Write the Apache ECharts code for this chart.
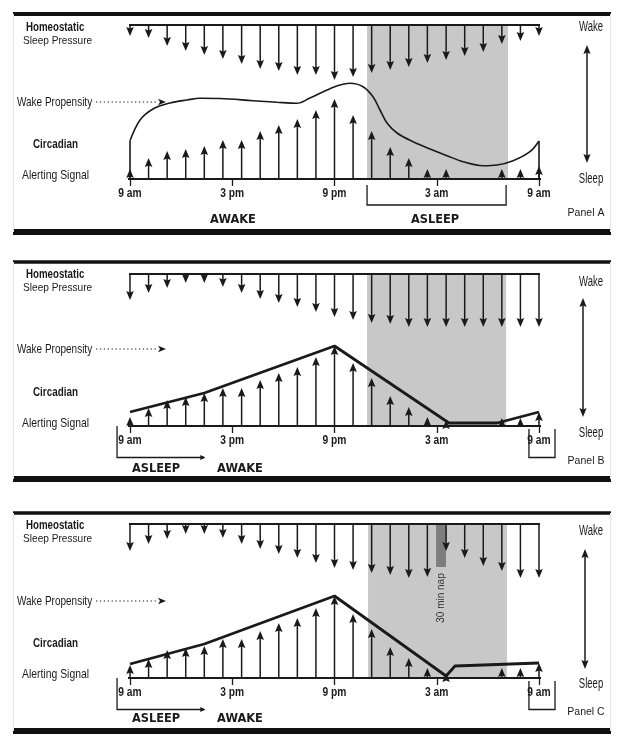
<!DOCTYPE html>
<html><head><meta charset="utf-8">
<script src="https://cdn.jsdelivr.net/npm/echarts@6/dist/echarts.min.js"></script>
<style>html,body{margin:0;padding:0;background:#fff}#c{width:624px;height:746px}</style>
</head><body><div id="c"></div>
<script>
// ---------- data ----------
const hourLabels = ['9 am', '3 pm', '9 pm', '3 am', '9 am'];
const hourTicks = [0, 6, 12, 18, 24];
// hours after 9 am at which the arrows stand
const arrowHours = [0, 1.09, 2.18, 3.27, 4.36, 5.45, 6.55, 7.64, 8.73, 9.82, 10.91, 12,
  13.09, 14.18, 15.27, 16.36, 17.45, 18.55, 19.64, 20.73, 21.82, 22.91, 24];
// homeostatic sleep pressure (downward arrow lengths)
const homeoA = [11, 13, 21, 26, 30, 34, 39, 44, 46, 50, 50, 55, 52, 48, 45, 42, 38, 35, 31, 27, 19, 16, 11];
const homeoB = [26, 19, 14, 9, 9, 13, 19, 25, 29, 33, 38, 43, 46, 49, 50, 53, 53, 53, 53, 53, 53, 53, 53];
const homeoC = [27, 20, 15, 10, 10, 14, 20, 25, 30, 34, 39, 44, 46, 49, 51, 54, 53, 27, 34, 42, 47, 54, 54];
// circadian alerting signal (upward arrow lengths)
const circA = [10, 21, 28, 30, 33, 39, 39, 48, 54, 60, 69, 80, 64, 48, 32, 21, 10, 10, 0, 0, 10, 10, 13];
const circB = [9, 18, 26, 29, 33, 38, 38, 46, 53, 59, 69, 80, 63, 48, 30, 19, 9, 6, 0, 0, 8, 8, 14];
const circC = [13, 19, 28, 30, 32, 39, 39, 47, 55, 60, 70, 82, 64, 49, 31, 20, 10, 5, 0, 0, 10, 10, 15];
// wake propensity
const wakeA = [[0, 38.3], [0.59, 59], [1.35, 70], [2.35, 76], [3.35, 79], [4.11, 80.7], [5.28, 80.5],
  [7.22, 78.3], [8.63, 76.7], [9.8, 75.7], [10.56, 81], [11.56, 89], [12.32, 94], [12.91, 95.7],
  [13.67, 92.3], [14.26, 82.3], [14.67, 69], [15.08, 56], [15.67, 46], [16.61, 37.3], [17.61, 30],
  [18.6, 23.3], [19.54, 17.3], [20.72, 13.3], [21.54, 14], [22.48, 18.3], [23.47, 27.3], [24, 38]];
const wakeB = [[0, 14], [4.36, 33], [12, 80], [18.72, 3], [21.54, 3], [24, 14]];
const wakeC = [[0, 14], [4.36, 34], [12, 82], [18.55, 2], [19.07, 12], [24, 15]];
// sleep periods (hours after 9 am)
const sleepA = [13.91, 22.18];
const sleepB = [13.91, 22.07];
const sleepC = [13.97, 22.12];
const napC = [17.96, 18.54];

// ---------- layout ----------
const SANS = "'Liberation Sans',Arial,sans-serif";
const NX = 0.76; // horizontal squeeze to imitate a condensed face
const INK = '#1a1a1a';
const panels = [
  {top: 25, h: 154, homeo: homeoA, circ: circA, wake: wakeA, sleep: sleepA, smooth: true, topLine: [-0.76, 24.94]},
  {top: 274, h: 152, homeo: homeoB, circ: circB, wake: wakeB, sleep: sleepB, smooth: false, topLine: [-0.53, 24.7]},
  {top: 524, h: 154, homeo: homeoC, circ: circC, wake: wakeC, sleep: sleepC, smooth: false, topLine: [-0.53, 24.82]}
];

const grids = [], xAxes = [], yAxes = [], series = [];
panels.forEach((p, gi) => {
  grids.push({left: 130, width: 409, top: p.top, height: p.h});
  xAxes.push({gridIndex: gi, type: 'value', min: 0, max: 24, interval: 6,
    axisLine: {show: false}, splitLine: {show: false},
    axisTick: {show: true, length: 7, lineStyle: {color: INK, width: 1.3}},
    axisLabel: {show: false}});
  yAxes.push({gridIndex: gi, type: 'value', min: 0, max: p.h, show: false});

  // shading for sleep
  series.push({type: 'custom', xAxisIndex: gi, yAxisIndex: gi, clip: false, silent: true, z: 1,
    data: [[p.sleep[0], p.sleep[1], p.h]],
    renderItem(params, api) {
      const a = api.coord([api.value(0), api.value(2)]), b = api.coord([api.value(1), 0]);
      return {type: 'rect', shape: {x: a[0], y: a[1], width: b[0] - a[0], height: b[1] - a[1]},
        style: {fill: '#c8c8c8'}};
    }});
  if (gi === 2) {
    series.push({type: 'custom', xAxisIndex: gi, yAxisIndex: gi, clip: false, silent: true, z: 2,
      data: [[napC[0], napC[1], p.h]],
      renderItem(params, api) {
        const a = api.coord([api.value(0), api.value(2)]), b = api.coord([api.value(1), api.value(2) - 43]);
        return {type: 'rect', shape: {x: a[0], y: a[1], width: b[0] - a[0], height: b[1] - a[1]},
          style: {fill: '#7d7d7d'}};
      }});
  }
  // baselines
  series.push({type: 'line', xAxisIndex: gi, yAxisIndex: gi, clip: false, silent: true, symbol: 'none', z: 4,
    data: [[p.topLine[0], p.h], [p.topLine[1], p.h]], lineStyle: {color: INK, width: 2}});
  series.push({type: 'line', xAxisIndex: gi, yAxisIndex: gi, clip: false, silent: true, symbol: 'none', z: 4,
    data: [[-0.76, 0], [24.94, 0]], lineStyle: {color: INK, width: 2.2}});

  // hour labels
  series.push({type: 'custom', xAxisIndex: gi, yAxisIndex: gi, clip: false, silent: true, z: 7,
    data: hourTicks.map((h, i) => [h, i]),
    renderItem(params, api) {
      const c = api.coord([api.value(0), 0]);
      return {type: 'text', x: c[0], y: c[1] + 14.5, scaleX: NX,
        style: {text: hourLabels[api.value(1)], fontFamily: SANS, fontWeight: 'bold', fontSize: 13.5,
          fill: INK, textAlign: 'center', textVerticalAlign: 'middle'}};
    }});

  // arrows
  const mkArrows = (vals, down) => ({type: 'custom', xAxisIndex: gi, yAxisIndex: gi, clip: false, silent: true, z: 5,
    data: arrowHours.map((hr, i) => [hr, vals[i]]),
    renderItem(params, api) {
      const hr = api.value(0), len = api.value(1);
      if (!len) return null;
      const base = down ? p.h : 0, tipV = down ? p.h - len : len;
      const p0 = api.coord([hr, base]), p1 = api.coord([hr, tipV]);
      const d = down ? 1 : -1, hl = 9, hw = 3.8;
      return {type: 'group', children: [
        {type: 'line', shape: {x1: p0[0], y1: p0[1], x2: p1[0], y2: p1[1] - d * 4},
          style: {stroke: INK, lineWidth: 1.5}},
        {type: 'polygon', shape: {points: [[p1[0], p1[1]], [p1[0] - hw, p1[1] - d * hl],
          [p1[0], p1[1] - d * (hl - 1.5)], [p1[0] + hw, p1[1] - d * hl]]}, style: {fill: INK}}
      ]};
    }});
  series.push(mkArrows(p.homeo, true));
  series.push(mkArrows(p.circ, false));

  // wake propensity
  series.push({type: 'line', xAxisIndex: gi, yAxisIndex: gi, clip: false, silent: true, symbol: 'none', z: 6,
    data: p.wake, smooth: p.smooth ? 0.35 : false,
    lineStyle: {color: INK, width: p.smooth ? 1.6 : 2.8}});
  if (p.smooth) {
    series.push({type: 'line', xAxisIndex: gi, yAxisIndex: gi, clip: false, silent: true, symbol: 'none', z: 6,
      data: [[p.wake[0][0], 0], p.wake[0], '-', p.wake[p.wake.length - 1], [p.wake[p.wake.length - 1][0], 0]],
      connectNulls: false, lineStyle: {color: INK, width: 1.6}});
  }

  // brackets
  const brackets = gi === 0
    ? [{pts: [[13.91, -6], [13.91, -26], [22.07, -26], [22.07, -6]], arrow: false}]
    : [{pts: [[-0.76, 0], [-0.76, -31.5], [4.36, -31.5]], arrow: true},
       {pts: [[23.41, -3], [23.41, -31.5], [24.94, -31.5], [24.94, -3]], arrow: false}];
  series.push({type: 'custom', xAxisIndex: gi, yAxisIndex: gi, clip: false, silent: true, z: 6,
    data: brackets.map((b, i) => [i]),
    renderItem(params, api) {
      const b = brackets[api.value(0)];
      const pts = b.pts.map(q => api.coord(q));
      const ch = [{type: 'polyline', shape: {points: pts}, style: {stroke: INK, lineWidth: 1.3, fill: null}}];
      if (b.arrow) {
        const e = pts[pts.length - 1];
        ch.push({type: 'polygon', shape: {points: [[e[0] + 1, e[1]], [e[0] - 4, e[1] - 2.5], [e[0] - 4, e[1] + 2.5]]},
          style: {fill: INK}});
      }
      return {type: 'group', children: ch};
    }});
});

// ---------- annotations ----------
const g = [];
const txt = (x, y, s, size, weight, align, sx, font, color) => g.push({type: 'text', x, y, silent: true, z: 10,
  scaleX: sx || 1,
  style: {text: s, fontFamily: font || SANS, fontSize: size, fontWeight: weight || 'normal', fill: color || INK,
    textAlign: align || 'left', textVerticalAlign: 'middle'}});
const hline = (y, w) => g.push({type: 'rect', silent: true, shape: {x: 13, y: y - w / 2, width: 598, height: w},
  style: {fill: '#111'}});
const dbl = (x, y1, y2) => {
  g.push({type: 'line', silent: true, shape: {x1: x, y1: y1 + 4, x2: x, y2: y2 - 4}, style: {stroke: INK, lineWidth: 1.5}});
  g.push({type: 'polygon', silent: true, shape: {points: [[x, y1], [x - 3.6, y1 + 9], [x, y1 + 7.5], [x + 3.6, y1 + 9]]}, style: {fill: INK}});
  g.push({type: 'polygon', silent: true, shape: {points: [[x, y2], [x - 3.6, y2 - 9], [x, y2 - 7.5], [x + 3.6, y2 - 9]]}, style: {fill: INK}});
};
const dotted = (y) => {
  g.push({type: 'line', silent: true, shape: {x1: 96, y1: y, x2: 158, y2: y},
    style: {stroke: INK, lineWidth: 1.2, lineDash: [1.3, 2.6]}});
  g.push({type: 'polygon', silent: true, shape: {points: [[166, y], [158, y - 3.2], [160, y], [158, y + 3.2]]}, style: {fill: INK}});
};
// frames
[[14, 4, 232, 6], [262, 3.5, 479, 6], [513, 3.5, 731, 6]].forEach(([t, tw, b, bw]) => {
  hline(t, tw); hline(b, bw);
  g.push({type: 'line', silent: true, shape: {x1: 13.5, y1: t, x2: 13.5, y2: b}, style: {stroke: '#e6e6e6', lineWidth: 1}});
  g.push({type: 'line', silent: true, shape: {x1: 610.5, y1: t, x2: 610.5, y2: b}, style: {stroke: '#e6e6e6', lineWidth: 1}});
});
const labelY = [
  {home: 27, press: 41, wake: 102, circ: 144, alert: 175, wk: 27, sl: 179, arr: [45, 163], ax: 587, pn: 213},
  {home: 274, press: 288, wake: 349, circ: 392, alert: 423, wk: 282, sl: 433, arr: [298, 417], ax: 583, pn: 461},
  {home: 525, press: 539, wake: 601, circ: 643, alert: 674, wk: 531, sl: 684, arr: [549, 669], ax: 585, pn: 712}
];
labelY.forEach((L, i) => {
  txt(26, L.home, 'Homeostatic', 13.5, 'bold', 'left', 0.72);
  txt(23, L.press, 'Sleep Pressure', 11, 'normal', 'left', 0.92);
  txt(17, L.wake, 'Wake Propensity', 13.5, 'normal', 'left', 0.74);
  dotted(L.wake);
  txt(33, L.circ, 'Circadian', 13.5, 'bold', 'left', 0.73);
  txt(22, L.alert, 'Alerting Signal', 13.5, 'normal', 'left', 0.77);
  txt(591, L.wk, 'Wake', 14, 'normal', 'center', 0.68);
  txt(591, L.sl, 'Sleep', 14, 'normal', 'center', 0.68);
  dbl(L.ax, L.arr[0], L.arr[1]);
  txt(586, L.pn, ['Panel A', 'Panel B', 'Panel C'][i], 10.5, 'normal', 'center', 1);
});
const SLAB = "'DejaVu Sans',sans-serif";
[[233, 220, 'AWAKE'], [435, 220, 'ASLEEP'], [156, 469, 'ASLEEP'], [240, 469, 'AWAKE'],
 [156, 719, 'ASLEEP'], [240, 719, 'AWAKE']].forEach(([x, y, s]) => txt(x, y, s, 12, 'bold', 'center', 0.95, SLAB));
g.push({type: 'text', x: 441, y: 598, rotation: Math.PI / 2, silent: true, z: 10,
  style: {text: '30 min nap', fontFamily: SANS, fontSize: 10, fill: '#333', textAlign: 'center', textVerticalAlign: 'middle'}});

const chart = echarts.init(document.getElementById('c'), null, {renderer: 'canvas'});
chart.setOption({animation: false, backgroundColor: '#fff', grid: grids, xAxis: xAxes, yAxis: yAxes,
  series, graphic: g});
</script></body></html>
